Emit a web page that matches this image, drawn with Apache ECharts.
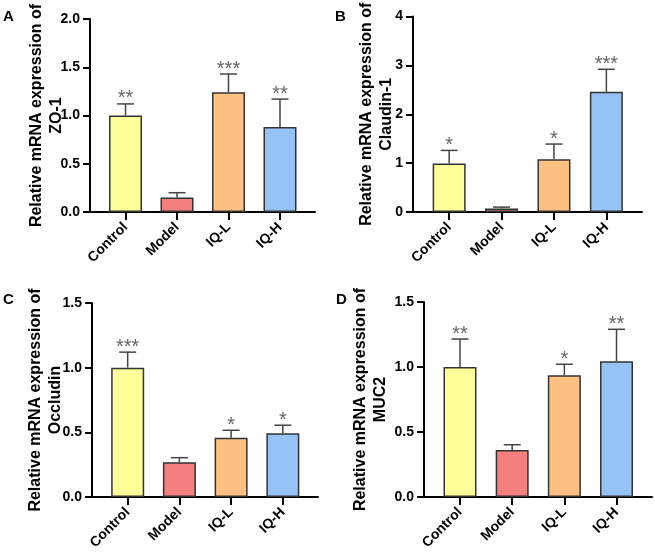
<!DOCTYPE html>
<html>
<head>
<meta charset="utf-8">
<script src="https://cdn.jsdelivr.net/npm/echarts@6/dist/echarts.min.js"></script>
<style>html,body{margin:0;padding:0;background:#fff;}#c{width:655px;height:556px;}</style>
</head>
<body>
<div id="c"></div>
<script>
const categories = ['Control', 'Model', 'IQ-L', 'IQ-H'];
const barColors = ['#FFFF99', '#F47F7F', '#FFC081', '#96C3F6'];

const zo1Mean = [1.0, 0.15, 1.24, 0.88];
const zo1Sd = [0.12, 0.05, 0.19, 0.29];
const zo1Sig = ['**', '', '***', '**'];

const claudinMean = [0.99, 0.07, 1.08, 2.46];
const claudinSd = [0.27, 0.03, 0.31, 0.46];
const claudinSig = ['*', '', '*', '***'];

const occludinMean = [1.0, 0.268, 0.459, 0.493];
const occludinSd = [0.12, 0.036, 0.057, 0.062];
const occludinSig = ['***', '', '*', '*'];

const muc2Mean = [1.0, 0.362, 0.936, 1.045];
const muc2Sd = [0.215, 0.04, 0.085, 0.245];
const muc2Sig = ['**', '', '*', '**'];

const yRanges = { zo1: [0, 2, 0.5], claudin: [0, 4, 1], occludin: [0, 1.5, 0.5], muc2: [0, 1.5, 0.5] };

const FONT = '"Liberation Sans", Arial, sans-serif';

const panels = [
  { letter: 'A', gene: 'ZO-1', mean: zo1Mean, sd: zo1Sd, sig: zo1Sig, yr: yRanges.zo1, dec: 1,
    grid: { left: 90, top: 19, width: 225, height: 193 }, nameGap: 23, lx: 3, ly: 9 },
  { letter: 'B', gene: 'Claudin-1', mean: claudinMean, sd: claudinSd, sig: claudinSig, yr: yRanges.claudin, dec: 0,
    grid: { left: 413, top: 16.5, width: 229, height: 195.5 }, nameGap: 16, lx: 335, ly: 9 },
  { letter: 'C', gene: 'Occludin', mean: occludinMean, sd: occludinSd, sig: occludinSig, yr: yRanges.occludin, dec: 1,
    grid: { left: 92, top: 303, width: 226, height: 194 }, nameGap: 26, lx: 3, ly: 292 },
  { letter: 'D', gene: 'MUC2', mean: muc2Mean, sd: muc2Sd, sig: muc2Sig, yr: yRanges.muc2, dec: 1,
    grid: { left: 424, top: 302, width: 228, height: 195 }, nameGap: 33, lx: 336, ly: 292 }
];

const option = { animation: false, backgroundColor: '#fff', title: [], grid: [], xAxis: [], yAxis: [], series: [] };

panels.forEach((p, gi) => {
  option.title.push({ text: p.letter, left: p.lx, top: p.ly, padding: 0,
    textStyle: { fontSize: 15, fontWeight: 'bold', color: '#000', fontFamily: FONT } });
  option.grid.push(Object.assign({ containLabel: false }, p.grid));
  const idx = [0, 1, 2, 3];
  option.xAxis.push({
    gridIndex: gi, type: 'value', min: -0.69, max: 3.68,
    splitLine: { show: false },
    axisLine: { show: true, onZero: false, lineStyle: { color: '#000', width: 2 } },
    axisTick: { show: true, customValues: idx, length: 8, lineStyle: { color: '#000', width: 2 } },
    axisLabel: { show: true, customValues: idx, rotate: 45, margin: 13,
      formatter: v => categories[Math.round(v)] || '',
      fontSize: 14, fontWeight: 'bold', color: '#000', fontFamily: FONT }
  });
  option.yAxis.push({
    gridIndex: gi, type: 'value', min: p.yr[0], max: p.yr[1], interval: p.yr[2],
    name: 'Relative mRNA expression of\n' + p.gene,
    nameLocation: 'middle', nameRotate: 90, nameGap: p.nameGap, nameMoveOverlap: false,
    nameTextStyle: { fontSize: 16, fontWeight: 'bold', color: '#000', lineHeight: 20, fontFamily: FONT },
    splitLine: { show: false },
    axisLine: { show: true, onZero: false, lineStyle: { color: '#000', width: 2 } },
    axisTick: { show: true, length: 7, lineStyle: { color: '#000', width: 2 } },
    axisLabel: { margin: 10, fontSize: 14, fontWeight: 'bold', color: '#000', fontFamily: FONT,
      formatter: v => v.toFixed(p.dec) }
  });
  option.series.push({
    type: 'bar', xAxisIndex: gi, yAxisIndex: gi, barWidth: 33,
    data: p.mean.map((m, i) => ({ value: [i, m], itemStyle: { color: barColors[i], borderColor: '#333', borderWidth: 1.5 } }))
  });
  option.series.push({
    type: 'custom', xAxisIndex: gi, yAxisIndex: gi, z: 5,
    data: p.mean.map((m, i) => [i, m, m + p.sd[i]]),
    renderItem: (params, api) => {
      const x = api.value(0);
      const a = api.coord([x, api.value(1)]);
      const b = api.coord([x, api.value(2)]);
      const st = { stroke: '#444', lineWidth: 1.5 };
      const children = [
        { type: 'line', shape: { x1: a[0], y1: a[1], x2: b[0], y2: b[1] }, style: st },
        { type: 'line', shape: { x1: b[0] - 8.5, y1: b[1], x2: b[0] + 8.5, y2: b[1] }, style: st }
      ];
      const s = p.sig[params.dataIndex];
      if (s) {
        children.push({ type: 'text', x: b[0], y: b[1] + 5,
          style: { text: s, fill: '#666', fontSize: 20, fontFamily: FONT, align: 'center', verticalAlign: 'bottom' } });
      }
      return { type: 'group', children };
    }
  });
});

const chart = echarts.init(document.getElementById('c'), null, { renderer: 'canvas' });
chart.setOption(option);
</script>
</body>
</html>
